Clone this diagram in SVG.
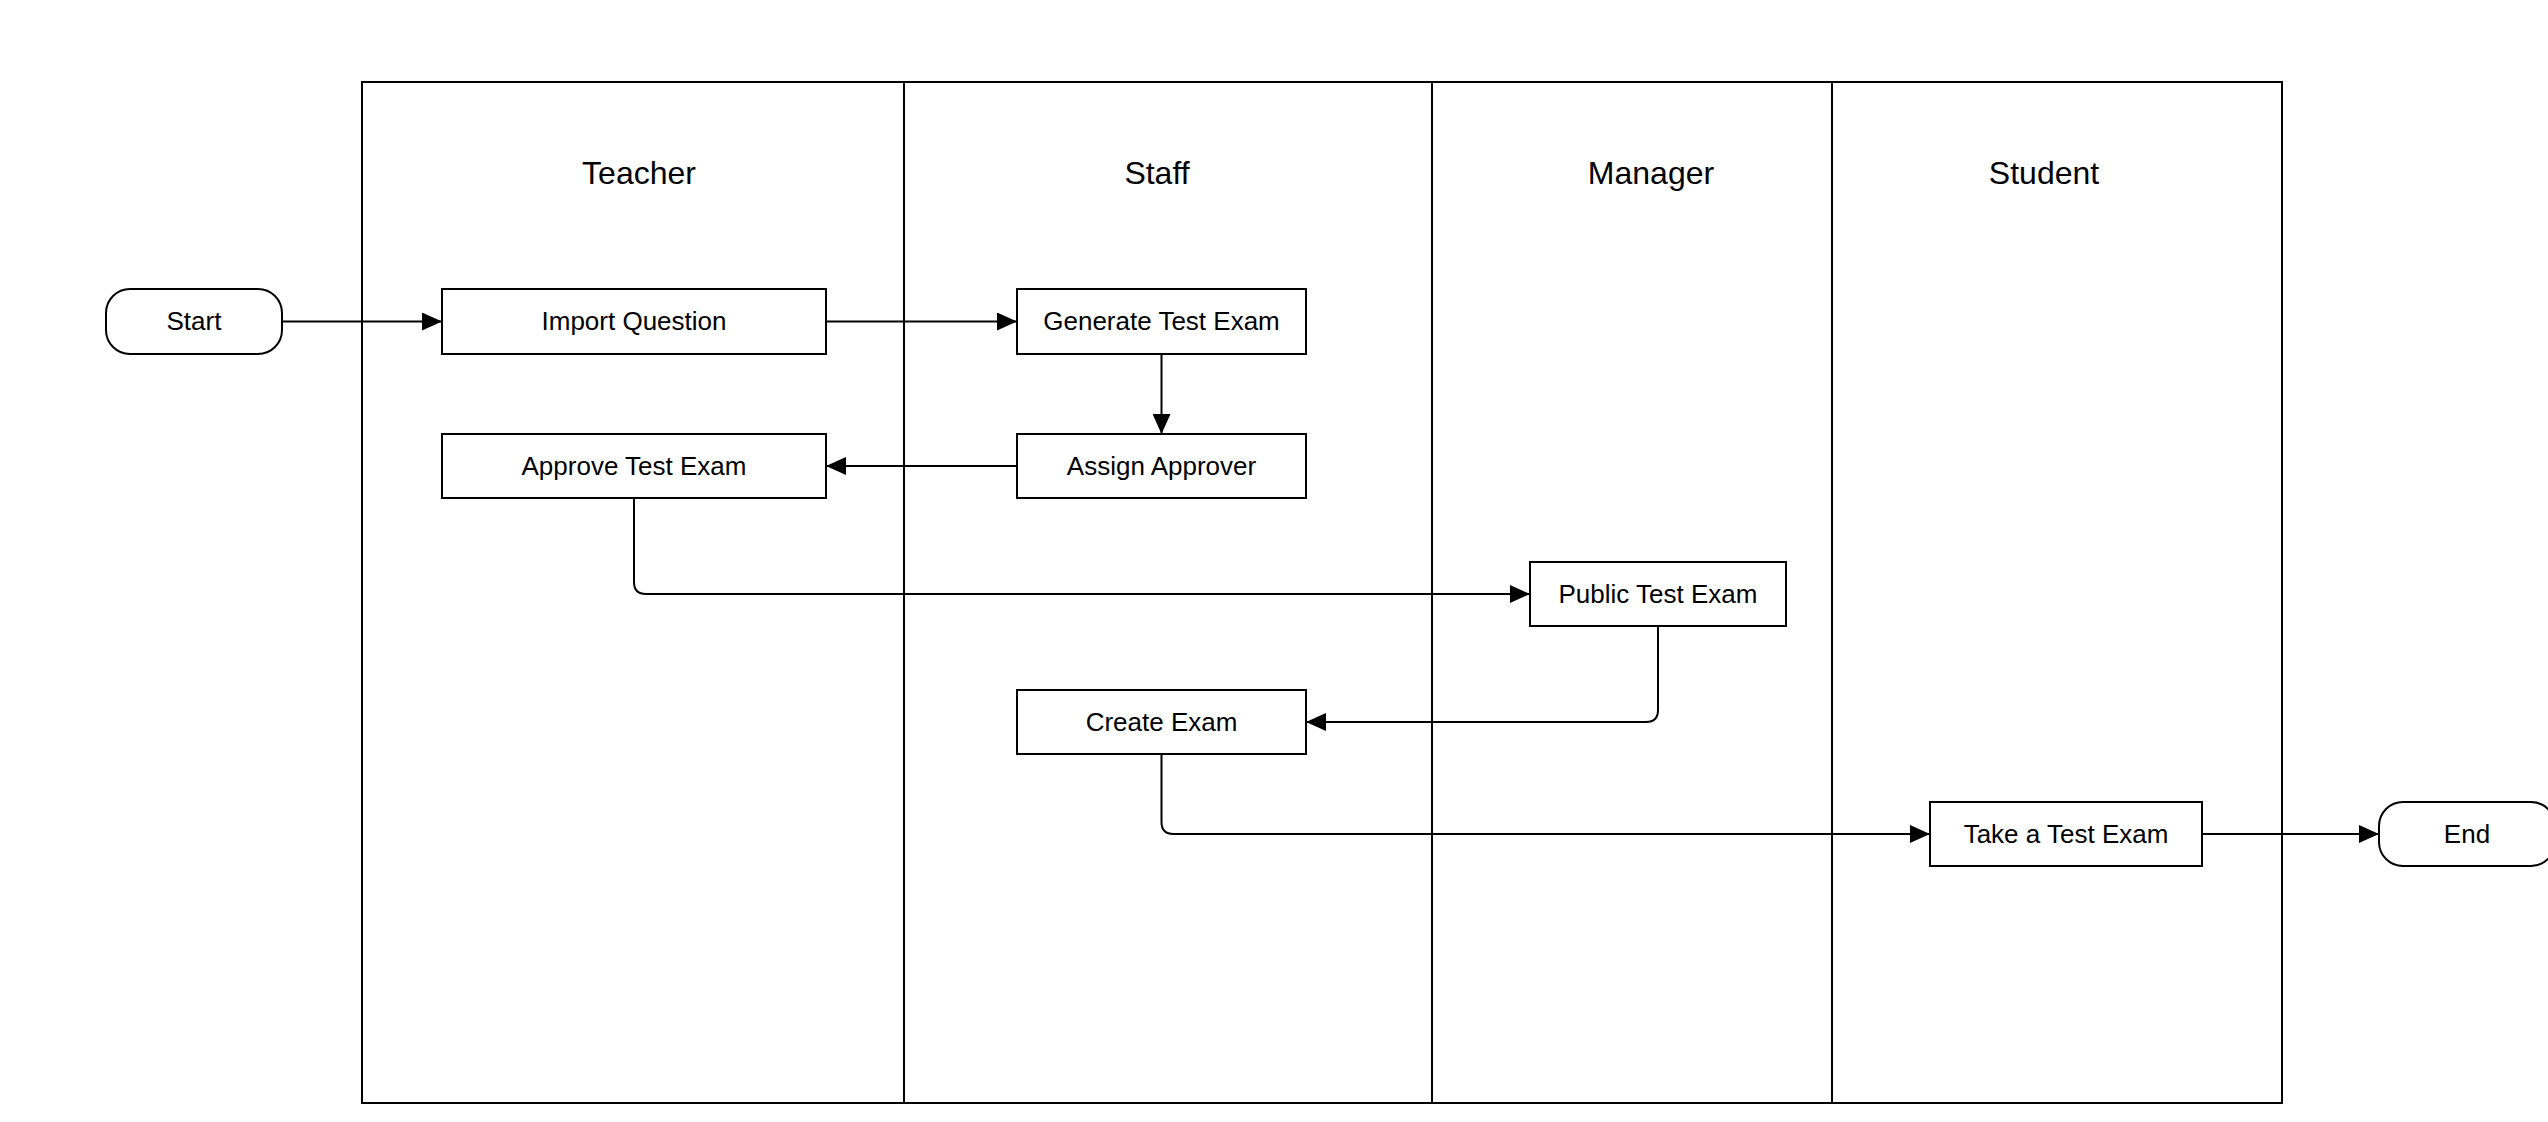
<svg xmlns="http://www.w3.org/2000/svg" width="2548" height="1122" viewBox="0 0 2548 1122">
<style>
.lane{fill:none;stroke:#000;stroke-width:2}
.box{fill:#fff;stroke:#000;stroke-width:2}
.t{font-family:"Liberation Sans",Arial,sans-serif;font-size:26px;fill:#000;text-anchor:middle}
.title{font-family:"Liberation Sans",Arial,sans-serif;font-size:32px;fill:#000;text-anchor:middle}
.c{fill:none;stroke:#000;stroke-width:2;marker-end:url(#arr)}
</style>
<defs>
<marker id="arr" markerUnits="userSpaceOnUse" markerWidth="21" markerHeight="18" refX="20" refY="9" orient="auto">
<path d="M0,0 L20,9 L0,18 z" fill="#000"/>
</marker>
</defs>
<rect width="2548" height="1122" fill="#fff"/>
<g id="pool">
<rect class="lane" x="362" y="82" width="1920" height="1021"/>
<line class="lane" x1="904" y1="82" x2="904" y2="1103"/>
<line class="lane" x1="1432" y1="82" x2="1432" y2="1103"/>
<line class="lane" x1="1832" y1="82" x2="1832" y2="1103"/>
<text class="title" x="639" y="184">Teacher</text>
<text class="title" x="1157" y="184">Staff</text>
<text class="title" x="1651" y="184">Manager</text>
<text class="title" x="2044" y="184">Student</text>
</g>
<g id="connectors">
<path class="c" d="M282,321.5 H442"/>
<path class="c" d="M826,321.5 H1017"/>
<path class="c" d="M1161.5,354 V434"/>
<path class="c" d="M1017,466 H826"/>
<path class="c" d="M634,498 V582 Q634,594 646,594 H1530"/>
<path class="c" d="M1658,626 V710 Q1658,722 1646,722 H1306"/>
<path class="c" d="M1161.5,754 V822 Q1161.5,834 1173.5,834 H1930"/>
<path class="c" d="M2202,834 H2379"/>
</g>
<g id="start"><rect class="box" x="106" y="289" width="176" height="65" rx="24"/><text class="t" x="194" y="330">Start</text></g>
<g id="import"><rect class="box" x="442" y="289" width="384" height="65"/><text class="t" x="634" y="330">Import Question</text></g>
<g id="generate"><rect class="box" x="1017" y="289" width="289" height="65"/><text class="t" x="1161.5" y="330">Generate Test Exam</text></g>
<g id="assign"><rect class="box" x="1017" y="434" width="289" height="64"/><text class="t" x="1161.5" y="474.5">Assign Approver</text></g>
<g id="approve"><rect class="box" x="442" y="434" width="384" height="64"/><text class="t" x="634" y="474.5">Approve Test Exam</text></g>
<g id="public"><rect class="box" x="1530" y="562" width="256" height="64"/><text class="t" x="1658" y="602.5">Public Test Exam</text></g>
<g id="create"><rect class="box" x="1017" y="690" width="289" height="64"/><text class="t" x="1161.5" y="730.5">Create Exam</text></g>
<g id="take"><rect class="box" x="1930" y="802" width="272" height="64"/><text class="t" x="2066" y="842.5">Take a Test Exam</text></g>
<g id="end"><rect class="box" x="2379" y="802" width="176" height="64" rx="24"/><text class="t" x="2467" y="842.5">End</text></g>
</svg>
